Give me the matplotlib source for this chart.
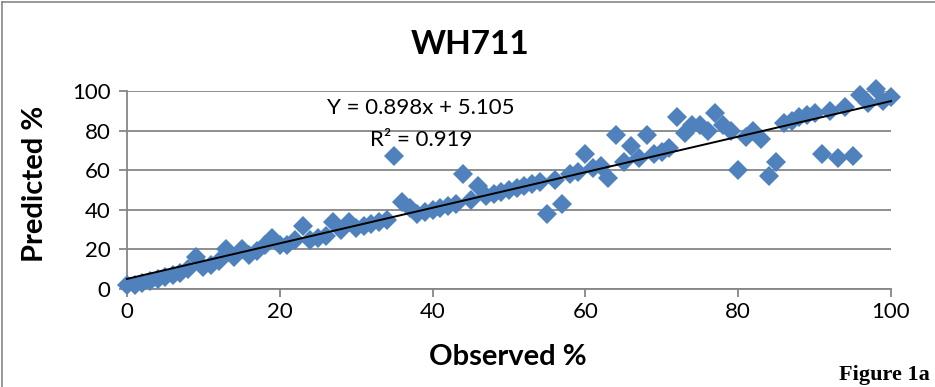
import matplotlib
matplotlib.use("Agg")
import matplotlib.pyplot as plt
import numpy as np
from matplotlib.lines import Line2D

# ---- data ----
observed = list(range(0, 101))
predicted = [2, 2, 3, 4, 5, 6, 7, 8, 10, 16,
             11, 12, 14, 20, 16, 20, 17, 19, 22, 26,
             22, 22, 25, 32, 25, 26, 27, 34, 30, 34,
             31, 32, 33, 34, 35, 67, 44, 41, 38, 39,
             40, 41, 42, 43, 58, 45, 52, 47, 48, 49,
             50, 51, 52, 53, 54, 38, 55, 43, 58, 59,
             68, 61, 62, 56, 78, 64, 72, 66, 78, 68,
             69, 71, 87, 79, 83, 83, 80, 89, 83, 80,
             60, 77, 80, 76, 57, 64, 84, 85, 87, 88,
             89, 68, 90, 66, 92, 67, 98, 94, 101, 95,
             97]
slope = 0.898
intercept = 5.105
r_squared = 0.919
x_ticks = [0, 20, 40, 60, 80, 100]
y_ticks = [0, 20, 40, 60, 80, 100]
title = "WH711"
x_label = "Observed %"
y_label = "Predicted %"
caption = "Figure 1a"

W, H = 935, 387
fig = plt.figure(figsize=(W / 100, H / 100), dpi=100)
fig.patch.set_facecolor("white")

font = ["Lato", "DejaVu Sans"]
grey = "#868686"

ax = fig.add_axes([127 / W, 1 - 289 / H, (891 - 127) / W, (289 - 91) / H])
ax.set_xlim(0, 100)
ax.set_ylim(0, 100)
ax.set_xticks(x_ticks)
ax.set_yticks(y_ticks)
ax.set_xticklabels([str(t) for t in x_ticks], fontsize=16, family=font)
ax.set_yticklabels([str(t) for t in y_ticks], fontsize=16, family=font)
ax.grid(axis="y", color=grey, linewidth=1.3)
ax.set_axisbelow(True)
for s in ["top", "right"]:
    ax.spines[s].set_visible(False)
for s in ["left", "bottom"]:
    ax.spines[s].set_color(grey)
    ax.spines[s].set_linewidth(1.3)
ax.tick_params(axis="both", colors=grey, labelcolor="black", length=6, width=1.3, direction="out")
ax.tick_params(axis="x", pad=3)
ax.tick_params(axis="y", pad=6)

ax.plot(observed, predicted, linestyle="none", marker="D", markersize=10,
        color="#4F81BD", markeredgewidth=0, clip_on=False, zorder=3)

xl = np.array([min(observed), max(observed)])
ax.plot(xl, slope * xl + intercept, color="black", linewidth=1.4, zorder=4, clip_on=False)

ax.text(38.5, 91.4, f"Y = {slope:.3f}x + {intercept:.3f}", ha="center", va="center",
        fontsize=16, family=font)
ax.text(38.5, 75.3, f"R² = {r_squared:.3f}", ha="center", va="center",
        fontsize=16, family=font)

fig.text(470 / W, 1 - 45 / H, title, ha="center", va="center", fontsize=24,
         fontweight="bold", family=font)
fig.text(508 / W, 1 - 357 / H, x_label, ha="center", va="center", fontsize=21,
         fontweight="bold", family=font)
fig.text(35 / W, 1 - 184 / H, y_label, ha="center", va="center", fontsize=21,
         fontweight="bold", family=font, rotation=90)
fig.text(884 / W, 1 - 375 / H, caption, ha="center", va="center", fontsize=16,
         fontweight="bold", family=["Liberation Serif", "DejaVu Serif"])

# chart frame
fig.add_artist(Line2D([2 / W, 2 / W], [0, 1 - 2 / H], color=grey, linewidth=1.2))
fig.add_artist(Line2D([2 / W, 1], [1 - 2 / H, 1 - 2 / H], color=grey, linewidth=1.2))

fig.savefig("out.png", dpi=100)
